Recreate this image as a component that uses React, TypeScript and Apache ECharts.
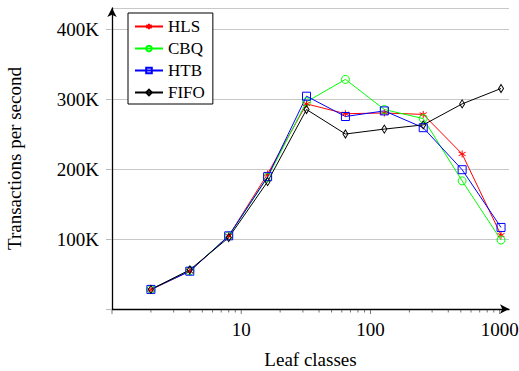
import React, { useEffect, useRef } from "react";
import * as echarts from "echarts";

const leafClasses = [2, 4, 8, 16, 32, 64, 128, 256, 512, 1024];
const hlsValues = [27500, 54000, 104500, 193000, 293000, 279000, 280000, 278000, 221500, 105500];
const cbqValues = [28000, 54500, 104500, 188000, 296000, 328000, 285000, 272000, 183000, 98500];
const htbValues = [28000, 54000, 104500, 189000, 304000, 275000, 283000, 259000, 199000, 116500];
const fifoValues = [28000, 56000, 102000, 182000, 285000, 250000, 257000, 263000, 293000, 315000];
const seriesNames = ["HLS", "CBQ", "HTB", "FIFO"];
const xTickValues = [1, 2, 3, 4, 5, 6, 7, 8, 9, 10, 20, 30, 40, 50, 60, 70, 80, 90, 100, 200, 300, 400, 500, 600, 700, 800, 900, 1000];
const xMajorTicks = [1, 10, 100, 1000];

const FONT = "Liberation Serif";
const ASTERISK = "path://M5,0 L5,10 M0.67,2.5 L9.33,7.5 M0.67,7.5 L9.33,2.5";

export default function App() {
  const ref = useRef<HTMLDivElement>(null);
  useEffect(() => {
    if (!ref.current) return;
    const chart = echarts.init(ref.current, null, { renderer: "svg" });
    const pair = (vals: number[]) => leafClasses.map((x, i) => [x, vals[i]]);
    const mk = (name: string, vals: number[], color: string, symbol: string, size: any) => ({
      name,
      type: "line",
      data: pair(vals),
      symbol,
      symbolSize: size,
      showSymbol: true,
      lineStyle: { color, width: 1 },
      itemStyle: { color: symbol === ASTERISK ? color : "rgba(0,0,0,0)", borderColor: color, borderWidth: 1 },
      emphasis: { disabled: true },
    });
    chart.setOption({
      animation: false,
      grid: { left: 112, right: 10, top: 8, bottom: 62, containLabel: false, outerBoundsMode: "none" },
      legend: {
        left: 128,
        top: 13,
        orient: "vertical",
        backgroundColor: "#fff",
        borderColor: "#000",
        borderWidth: 1,
        borderRadius: 0,
        padding: [5, 8, 3, 6],
        itemGap: 5,
        itemWidth: 28,
        itemHeight: 7,
        textStyle: { fontFamily: FONT, fontSize: 17, color: "#000", lineHeight: 16 },
        data: [
          { name: "HLS", itemStyle: { color: "#ff0000" } },
          { name: "CBQ", itemStyle: { color: "rgba(0,0,0,0)", borderColor: "#00ff00" } },
          { name: "HTB", itemStyle: { color: "rgba(0,0,0,0)", borderColor: "#0000ff" } },
          { name: "FIFO", itemStyle: { color: "rgba(0,0,0,0)", borderColor: "#000" } },
        ],
      },
      xAxis: {
        type: "log",
        logBase: 10,
        min: 1,
        max: 1180,
        name: "Leaf classes",
        nameLocation: "middle",
        nameGap: 41,
        nameTextStyle: { fontFamily: FONT, fontSize: 19, color: "#000" },
        axisLine: { show: true, lineStyle: { color: "#000", width: 1.3 }, symbol: ["none", "arrow"], symbolSize: [7, 9], symbolOffset: [0, 0] },
        axisTick: { show: false },
        splitLine: { show: false },
        axisLabel: {
          fontFamily: FONT,
          fontSize: 19,
          color: "#000",
          margin: 11,
          showMaxLabel: false,
          formatter: (v: number) => (v === 1 ? "" : String(Math.round(v))),
        },
      },
      yAxis: {
        type: "value",
        min: 0,
        max: 430000,
        interval: 100000,
        name: "Transactions per second",
        nameLocation: "middle",
        nameGap: 88,
        nameTextStyle: { fontFamily: FONT, fontSize: 19, color: "#000" },
        axisLine: { show: true, lineStyle: { color: "#000", width: 1.3 }, symbol: ["none", "arrow"], symbolSize: [7, 9] },
        axisTick: { show: true, length: 6, lineStyle: { color: "#bbb" } },
        splitLine: { show: true, lineStyle: { color: "#c8c8c8", width: 1 } },
        axisLabel: {
          fontFamily: FONT,
          fontSize: 19,
          color: "#000",
          margin: 13,
          showMaxLabel: false,
          formatter: (v: number) => (v === 0 || v > 400000 ? "" : v / 1000 + "K"),
        },
      },
      series: [
        mk(seriesNames[0], hlsValues, "#ff0000", ASTERISK, 7),
        mk(seriesNames[1], cbqValues, "#00ff00", "circle", 8),
        mk(seriesNames[2], htbValues, "#0000ff", "rect", 8),
        mk(seriesNames[3], fifoValues, "#000000", "diamond", [5, 8]),
      ],
    });
    const y0 = chart.convertToPixel({ yAxisIndex: 0 }, 0) as number;
    const ticks = xTickValues.map((v) => {
      const px = chart.convertToPixel({ xAxisIndex: 0 }, v) as number;
      const len = xMajorTicks.includes(v) ? 5 : 3.5;
      return {
        type: "line",
        shape: { x1: px, y1: y0, x2: px, y2: y0 + len },
        style: { stroke: "#555", lineWidth: 0.8 },
        silent: true,
      };
    });
    chart.setOption({ graphic: ticks });
    return () => chart.dispose();
  }, []);
  return <div ref={ref} style={{ width: 519, height: 371, position: "absolute", left: 0, top: 0 }} />;
}
